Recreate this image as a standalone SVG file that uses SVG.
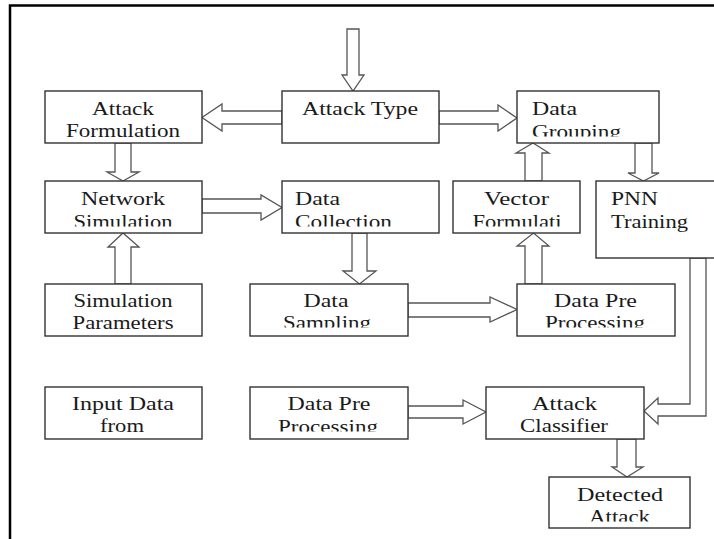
<svg xmlns="http://www.w3.org/2000/svg" width="714" height="539" viewBox="0 0 714 539">
<style>
.box{fill:#fff;stroke:#333;stroke-width:1.4}
.arr{fill:#fff;stroke:#555;stroke-width:1.3;stroke-linejoin:miter}
.t{font-family:"Liberation Serif","Times New Roman",serif;font-size:18px;fill:#1a1a1a}
.m{text-anchor:middle}
.frame{stroke:#000;stroke-width:2.5;fill:none}
</style>
<defs>
<clipPath id="cGroup"><rect x="517" y="91" width="142" height="45.5"/></clipPath>
<clipPath id="cNet"><rect x="45" y="181" width="157" height="45.5"/></clipPath>
<clipPath id="cColl"><rect x="282" y="181" width="157" height="45.5"/></clipPath>
<clipPath id="cVec"><rect x="453" y="181" width="127" height="45.5"/></clipPath>
<clipPath id="cSamp"><rect x="250" y="284" width="158" height="43.5"/></clipPath>
<clipPath id="cDpp1"><rect x="517" y="284" width="158" height="43.5"/></clipPath>
<clipPath id="cDpp2"><rect x="250" y="387" width="158" height="44.5"/></clipPath>
<clipPath id="cDet"><rect x="549" y="477" width="141" height="44.5"/></clipPath>
</defs>
<rect width="714" height="539" fill="#fff"/>
<path class="frame" d="M10,539 V5.5 H714"/>

<g id="connectors">
<polygon class="arr" points="347,29 359,29 359,75 364,75 353,91 342,75 347,75"/>
<polygon class="arr" points="282,111 222,111 222,104 202,117.5 222,131 222,124 282,124"/>
<polygon class="arr" points="439,111 498,111 498,105 517,118 498,131 498,124 439,124"/>
<polygon class="arr" points="115,143 131,143 131,172 139,172 123,181 107,172 115,172"/>
<polygon class="arr" points="202,199 261,199 261,195 282,207.5 261,220 261,213 202,213"/>
<polygon class="arr" points="115,284 115,247 108,247 123,233 139,247 131,247 131,284"/>
<polygon class="arr" points="352,233 367,233 367,271 376,271 359.5,284 343,271 352,271"/>
<polygon class="arr" points="408,303 490,303 490,297 517,309.5 490,322 490,317 408,317"/>
<polygon class="arr" points="525,284 525,246 517,246 533.5,233 549,246 542,246 542,284"/>
<polygon class="arr" points="525,181 525,153 516,153 533,143 549,153 542,153 542,181"/>
<polygon class="arr" points="635,143 652,143 652,173 659,173 643.5,181 628,173 635,173"/>
<polygon class="arr" points="690,258 690,404 658,404 658,398 644,411 658,424 658,416 706,416 706,258"/>
<polygon class="arr" points="408,406 463,406 463,400 486,412 463,424 463,418 408,418"/>
<polygon class="arr" points="617,439 636,439 636,467 643,467 627,477 612,467 617,467"/>
</g>

<g id="attack-formulation">
<rect class="box" x="45" y="91" width="157" height="52"/>
<text class="t m" x="123" y="115" textLength="62" lengthAdjust="spacingAndGlyphs">Attack</text>
<text class="t m" x="123" y="137" textLength="114" lengthAdjust="spacingAndGlyphs">Formulation</text>
</g>
<g id="attack-type">
<rect class="box" x="282" y="91" width="157" height="52"/>
<text class="t m" x="360" y="115" textLength="116" lengthAdjust="spacingAndGlyphs">Attack Type</text>
</g>
<g id="data-grouping">
<rect class="box" x="517" y="91" width="142" height="52"/>
<g clip-path="url(#cGroup)">
<text class="t" x="532" y="115" textLength="45" lengthAdjust="spacingAndGlyphs">Data</text>
<text class="t" x="532" y="138" textLength="89" lengthAdjust="spacingAndGlyphs">Grouping</text>
</g>
</g>
<g id="network-simulation">
<rect class="box" x="45" y="181" width="157" height="52"/>
<g clip-path="url(#cNet)">
<text class="t m" x="123" y="205" textLength="84" lengthAdjust="spacingAndGlyphs">Network</text>
<text class="t m" x="123" y="228" textLength="99" lengthAdjust="spacingAndGlyphs">Simulation</text>
</g>
</g>
<g id="data-collection">
<rect class="box" x="282" y="181" width="157" height="52"/>
<g clip-path="url(#cColl)">
<text class="t" x="295" y="205" textLength="45" lengthAdjust="spacingAndGlyphs">Data</text>
<text class="t" x="295" y="228" textLength="97" lengthAdjust="spacingAndGlyphs">Collection</text>
</g>
</g>
<g id="vector-formulation">
<rect class="box" x="453" y="181" width="127" height="52"/>
<g clip-path="url(#cVec)">
<text class="t m" x="516.5" y="205" textLength="65" lengthAdjust="spacingAndGlyphs">Vector</text>
<text class="t m" x="517" y="228" textLength="89" lengthAdjust="spacingAndGlyphs">Formulati</text>
</g>
</g>
<g id="pnn-training">
<rect class="box" x="596" y="181" width="130" height="77"/>
<text class="t" x="611" y="205" textLength="47" lengthAdjust="spacingAndGlyphs">PNN</text>
<text class="t" x="611" y="228" textLength="77" lengthAdjust="spacingAndGlyphs">Training</text>
</g>
<g id="simulation-parameters">
<rect class="box" x="45" y="284" width="157" height="52"/>
<text class="t m" x="123" y="307" textLength="99" lengthAdjust="spacingAndGlyphs">Simulation</text>
<text class="t m" x="123" y="329" textLength="101" lengthAdjust="spacingAndGlyphs">Parameters</text>
</g>
<g id="data-sampling">
<rect class="box" x="250" y="284" width="158" height="52"/>
<g clip-path="url(#cSamp)">
<text class="t m" x="326" y="307" textLength="45" lengthAdjust="spacingAndGlyphs">Data</text>
<text class="t m" x="327" y="329" textLength="88" lengthAdjust="spacingAndGlyphs">Sampling</text>
</g>
</g>
<g id="data-pre-processing-1">
<rect class="box" x="517" y="284" width="158" height="52"/>
<g clip-path="url(#cDpp1)">
<text class="t m" x="595.5" y="307" textLength="83" lengthAdjust="spacingAndGlyphs">Data Pre</text>
<text class="t m" x="595" y="329" textLength="100" lengthAdjust="spacingAndGlyphs">Processing</text>
</g>
</g>
<g id="input-data">
<rect class="box" x="45" y="387" width="157" height="52"/>
<text class="t m" x="123" y="410" textLength="102" lengthAdjust="spacingAndGlyphs">Input Data</text>
<text class="t m" x="122" y="432" textLength="44" lengthAdjust="spacingAndGlyphs">from</text>
</g>
<g id="data-pre-processing-2">
<rect class="box" x="250" y="387" width="158" height="52"/>
<g clip-path="url(#cDpp2)">
<text class="t m" x="329" y="410" textLength="83" lengthAdjust="spacingAndGlyphs">Data Pre</text>
<text class="t m" x="328" y="433" textLength="100" lengthAdjust="spacingAndGlyphs">Processing</text>
</g>
</g>
<g id="attack-classifier">
<rect class="box" x="486" y="387" width="158" height="52"/>
<text class="t m" x="564.5" y="410" textLength="65" lengthAdjust="spacingAndGlyphs">Attack</text>
<text class="t m" x="564" y="432" textLength="88" lengthAdjust="spacingAndGlyphs">Classifier</text>
</g>
<g id="detected-attack">
<rect class="box" x="549" y="477" width="141" height="51"/>
<g clip-path="url(#cDet)">
<text class="t m" x="620" y="501" textLength="86" lengthAdjust="spacingAndGlyphs">Detected</text>
<text class="t m" x="619.5" y="523" textLength="61" lengthAdjust="spacingAndGlyphs">Attack</text>
</g>
</g>
</svg>
